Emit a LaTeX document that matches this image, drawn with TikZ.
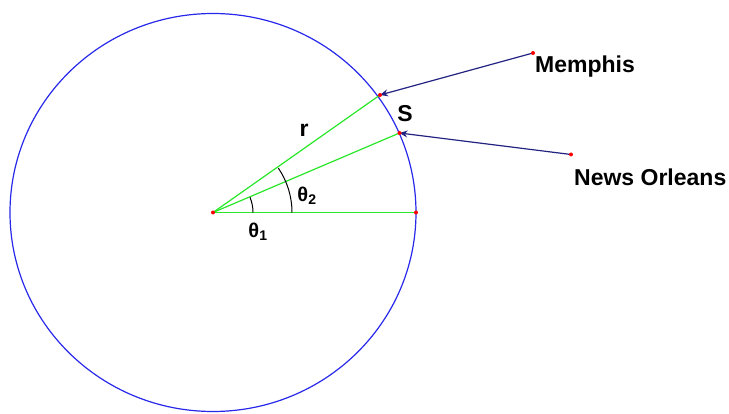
\documentclass[tikz,border=0pt]{standalone}
\usepackage{fontspec}
\setmainfont{Liberation Sans}
\usetikzlibrary{arrows.meta}
\definecolor{ringblue}{RGB}{40,40,235}
\definecolor{radgreen}{RGB}{40,230,40}
\definecolor{navy}{RGB}{35,35,130}
\tikzset{
  ring/.style={draw=ringblue, line width=1.2pt},
  radius line/.style={draw=radgreen, line width=1.2pt},
  pointer/.style={draw=navy, line width=1.2pt, -{Stealth[length=8pt,width=7pt]}},
  dotmark/.style={circle, fill=red, inner sep=0pt, minimum size=4pt},
  anglearc/.style={draw=black, line width=1pt},
  lbl/.style={font=\fontsize{23}{26}\selectfont\bfseries, inner sep=0pt},
  glbl/.style={font=\fontsize{20}{23}\selectfont\bfseries, inner sep=0pt}
}
\begin{document}
\begin{tikzpicture}[x=1pt, y=-1pt]
\useasboundingbox (0,0) rectangle (729,414);
\coordinate (c) at (213,212.5);
\draw[ring] (c) ellipse [x radius=203, y radius=199];
\coordinate (p1) at (380,95);
\coordinate (p2) at (399.5,133);
\coordinate (p0) at (416,212.5);
\coordinate (m) at (533,53);
\coordinate (n) at (571,154.5);
% radii
\draw[radius line] (c) -- (p0);
\draw[radius line] (c) -- (p1);
\draw[radius line] (c) -- (p2);
% angle arcs
\draw[anglearc] (253,212.5) arc[start angle=0, end angle=-22.4, radius=40];
\draw[anglearc] (292,212.5) arc[start angle=0, end angle=-34.2, radius=79];
% pointers
\draw[pointer] (m) -- (p1);
\draw[pointer] (n) -- (p2);
% dots
\foreach \p in {c,p0,p1,p2,m,n} \node[dotmark] at (\p) {};
% labels
\node[lbl, anchor=base west] (lm) at (535,73) {Memphis};
\node[lbl, anchor=base west] (ln) at (574,186) {News Orleans};
\node[lbl] (ls) at (405,113.5) {S};
\node[lbl] (lr) at (304,130) {r};
\node[glbl] (lt2) at (307,196) {θ\textsubscript{2}};
\node[glbl] (lt1) at (258,232) {θ\textsubscript{1}};
\end{tikzpicture}
\end{document}
